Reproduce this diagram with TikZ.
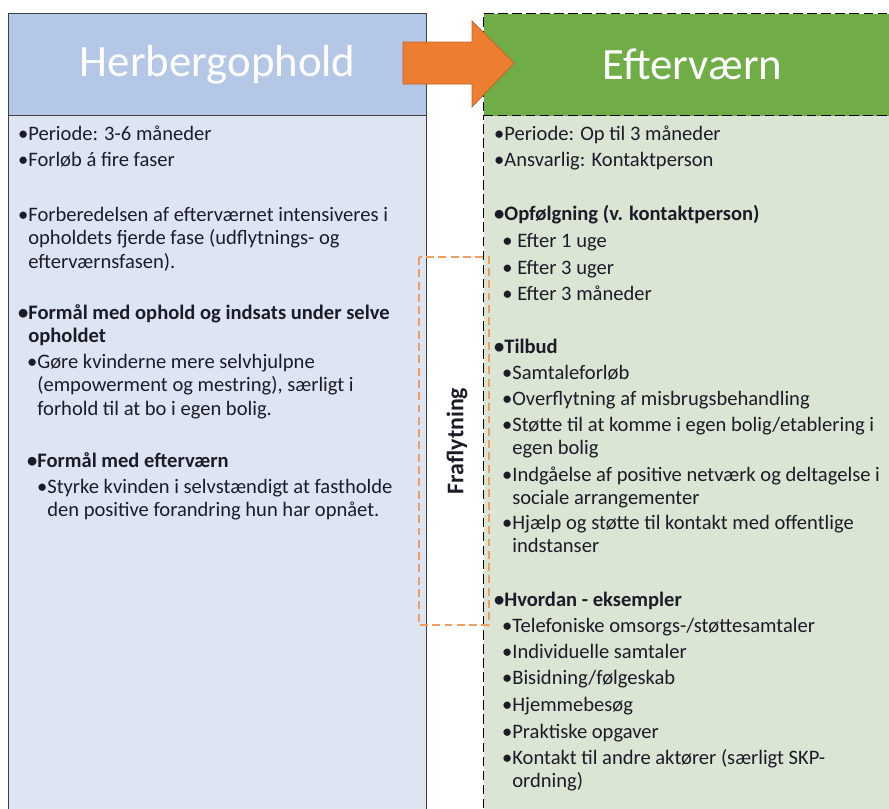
\documentclass[tikz,border=0pt]{standalone}
\usepackage{fontspec}
\setmainfont{Carlito}
\usetikzlibrary{positioning}

\definecolor{hdrblue}{HTML}{B4C7E7}
\definecolor{bodyblue}{HTML}{DEE5F2}
\definecolor{hdrgreen}{HTML}{70AD47}
\definecolor{bodygreen}{HTML}{DAE5D3}
\definecolor{arroworange}{HTML}{ED7D31}
\definecolor{arrowedge}{HTML}{C0622A}
\definecolor{moveorange}{HTML}{F19D62}
\definecolor{txtdark}{HTML}{1C1C28}

% several lines, baseline on the first one
\newcommand\itemlines[1]{\begin{tabular}[t]{@{}l@{}}#1\end{tabular}}

\tikzset{
  hdr/.style={anchor=north west, minimum width=8.36cm, minimum height=2.04cm,
    inner sep=0pt, text=white, font=\fontsize{25.5}{30}\selectfont},
  bodybox/.style={anchor=north west, minimum width=8.36cm, minimum height=14.6cm,
    inner sep=0pt},
  longdash/.style={dash pattern=on 5.5pt off 2.5pt},
  item/.style={anchor=base west, inner sep=0pt, text=txtdark,
    font=\fontsize{11.7}{13.4}\selectfont},
  bitem/.style={item, font=\fontsize{11.7}{13.4}\selectfont\bfseries},
}

\begin{document}
\begin{tikzpicture}[x=0.02cm,y=-0.02cm]
  \useasboundingbox (0,0) rectangle (889,808);
  \clip (0,0) rectangle (889,808);

  % left column
  \node[bodybox, fill=bodyblue, draw=black!75, line width=0.8pt] (herbbody) at (8,115) {};
  \node[hdr, fill=hdrblue, draw=black!75, line width=0.8pt] (herb) at (8,13) {Herbergophold};

  % right column
  \node[bodybox, fill=bodygreen, draw=black, longdash, line width=0.6pt] (eftbody) at (483,115) {};
  \node[hdr, fill=hdrgreen, draw=black, longdash, line width=0.6pt] (eft) at (483,13) {Efterværn};

  % arrow between the headers
  \draw[fill=arroworange, draw=arrowedge, line width=0.4pt]
    (403,42) -- (472,42) -- (472,21) -- (514,63) -- (472,107) -- (472,84) -- (403,84) -- cycle;

  % moving out
  \draw[moveorange, dash pattern=on 4.5pt off 2.5pt, line width=0.7pt] (419,257) rectangle (489,625);
  \node[rotate=90, text=txtdark, font=\fontsize{13.6}{16}\selectfont\bfseries] (fra) at (457,441) {Fraflytning};

  % left texts
  \node[item] (hPeriode) at (28,140) {\llap{\textbullet}Periode: 3-6 måneder};
  \node[item] (hForloeb) at (28,166) {\llap{\textbullet}Forløb á fire faser};
  \node[item] (hForb) at (28,221) {\itemlines{\llap{\textbullet}Forberedelsen af efterværnet intensiveres i\\
    opholdets fjerde fase (udflytnings- og\\efterværnsfasen).}};
  \node[bitem] (hFormaal) at (28,319) {\itemlines{\llap{\textbullet}Formål med ophold og indsats under selve\\opholdet}};
  \node[item] (hGoere) at (37,368) {\itemlines{\llap{\textbullet}Gøre kvinderne mere selvhjulpne\\
    (empowerment og mestring), særligt i\\forhold til at bo i egen bolig.}};
  \node[bitem] (hEfter) at (37,467) {\llap{\textbullet}Formål med efterværn};
  \node[item] (hStyrke) at (47,493) {\itemlines{\llap{\textbullet}Styrke kvinden i selvstændigt at fastholde\\
    den positive forandring hun har opnået.}};

  % right texts
  \node[item] (ePeriode) at (504,140) {\llap{\textbullet}Periode: Op til 3 måneder};
  \node[item] (eAnsvar) at (504,166) {\llap{\textbullet}Ansvarlig: Kontaktperson};
  \node[bitem] (eOpf) at (504,220) {\llap{\textbullet}Opfølgning (v. kontaktperson)};
  \node[item] (eUge1) at (517,247) {\llap{\textbullet\ }Efter 1 uge};
  \node[item] (eUger3) at (517,274) {\llap{\textbullet\ }Efter 3 uger};
  \node[item] (eMdr3) at (517,300) {\llap{\textbullet\ }Efter 3 måneder};
  \node[bitem] (eTilbud) at (504,353) {\llap{\textbullet}Tilbud};
  \node[item] (eSamtale) at (512,379) {\llap{\textbullet}Samtaleforløb};
  \node[item] (eOverfl) at (512,405) {\llap{\textbullet}Overflytning af misbrugsbehandling};
  \node[item] (eStoette) at (512,431) {\itemlines{\llap{\textbullet}Støtte til at komme i egen bolig/etablering i\\egen bolig}};
  \node[item] (eIndg) at (512,481) {\itemlines{\llap{\textbullet}Indgåelse af positive netværk og deltagelse i\\sociale arrangementer}};
  \node[item] (eHjaelp) at (512,529) {\itemlines{\llap{\textbullet}Hjælp og støtte til kontakt med offentlige\\indstanser}};
  \node[bitem] (eHvordan) at (504,606) {\llap{\textbullet}Hvordan - eksempler};
  \node[item] (eTelef) at (512,632) {\llap{\textbullet}Telefoniske omsorgs-/støttesamtaler};
  \node[item] (eIndiv) at (512,658) {\llap{\textbullet}Individuelle samtaler};
  \node[item] (eBisid) at (512,684) {\llap{\textbullet}Bisidning/følgeskab};
  \node[item] (eHjem) at (512,711) {\llap{\textbullet}Hjemmebesøg};
  \node[item] (ePrakt) at (512,738) {\llap{\textbullet}Praktiske opgaver};
  \node[item] (eKontakt) at (512,764) {\itemlines{\llap{\textbullet}Kontakt til andre aktører (særligt SKP-\\ordning)}};
\end{tikzpicture}
\end{document}
